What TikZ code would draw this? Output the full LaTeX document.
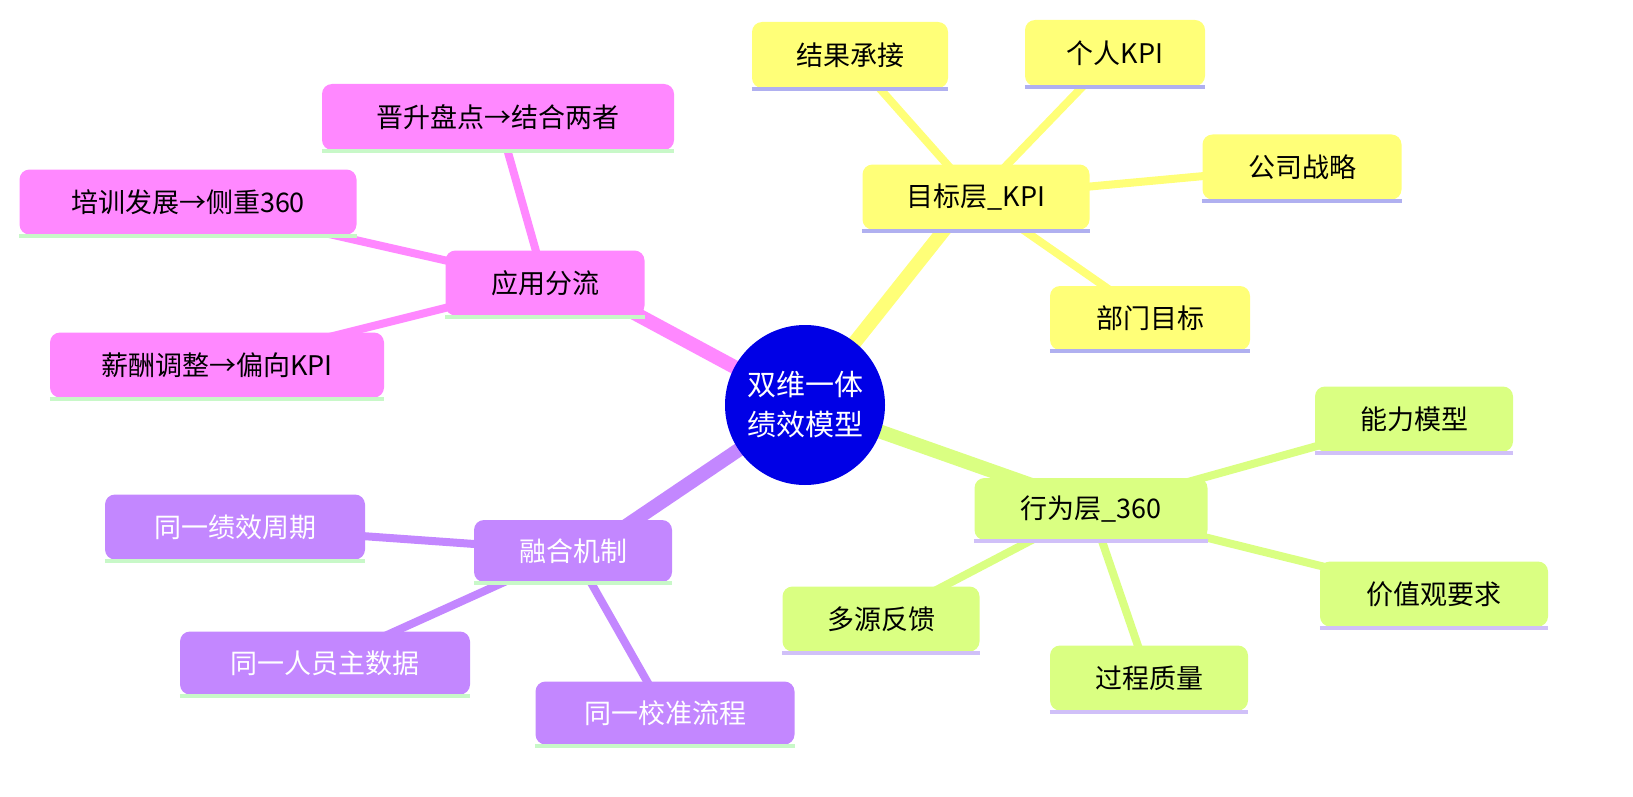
\documentclass[tikz,border=0pt]{standalone}
\usepackage{fontspec}
\newfontfamily\cjk{Noto Sans CJK SC}
\definecolor{ky}{HTML}{FFFF78}
\definecolor{kg}{HTML}{DAFF82}
\definecolor{kp}{HTML}{C387FF}
\definecolor{kk}{HTML}{FF88FF}
\definecolor{ul}{HTML}{B0B0F0}
\definecolor{ulg}{HTML}{C8F8C8}
\definecolor{ulp}{HTML}{D0C0F8}
\begin{document}
\begin{tikzpicture}[x=0.5pt,y=-0.5pt,
  every node/.append style={scale=0.5},
  box/.style={rounded corners=5pt,inner sep=0pt,font=\cjk\fontsize{27}{30}\selectfont},
  yb/.style={box,fill=ky},
  gb/.style={box,fill=kg},
  pb/.style={box,fill=kp,text=white},
  kb/.style={box,fill=kk},
  main/.style={line width=7pt},
  leafl/.style={line width=4pt},
  und/.style={line width=2pt}]
\useasboundingbox (0,0) rectangle (1633,797);
% edges
\coordinate (r) at (805,405);
\draw[ky,main] (r) -- (960,210);
\draw[kg,main] (r) -- (1060,495);
\draw[kp,main] (r) -- (620,530);
\draw[kk,main] (r) -- (610,300);
\draw[ky,leafl] (976,197) -- (850,55);
\draw[ky,leafl] (976,197) -- (1115,53);
\draw[ky,leafl] (976,197) -- (1302,167);
\draw[ky,leafl] (976,197) -- (1150,318);
\draw[kg,leafl] (1091,509) -- (1414,419);
\draw[kg,leafl] (1091,509) -- (1434,594);
\draw[kg,leafl] (1091,509) -- (1149,678);
\draw[kg,leafl] (1091,509) -- (881,619);
\draw[kp,leafl] (573,551) -- (235,527);
\draw[kp,leafl] (573,551) -- (325,663);
\draw[kp,leafl] (573,551) -- (665,713);
\draw[kk,leafl] (545,283) -- (498,117);
\draw[kk,leafl] (545,283) -- (188,202);
\draw[kk,leafl] (545,283) -- (217,365);
% root
\node[circle,fill={rgb,255:red,0;green,0;blue,230},minimum size=160pt,text=white,align=center,font=\cjk\fontsize{29}{40}\selectfont] (root) at (805,405) {双维一体\\绩效模型};
% nodes
\node[yb,minimum width=227pt,minimum height=65pt] (a) at (976,197) {目标层\_KPI};
\node[yb,minimum width=196pt,minimum height=66pt] (a1) at (850,55) {结果承接};
\node[yb,minimum width=180pt,minimum height=66pt] (a2) at (1115,53) {个人KPI};
\node[yb,minimum width=199pt,minimum height=65pt] (a3) at (1302,167) {公司战略};
\node[yb,minimum width=200pt,minimum height=64pt] (a4) at (1150,318) {部门目标};
\node[gb,minimum width=233pt,minimum height=62pt] (b) at (1091,509) {行为层\_360};
\node[gb,minimum width=198pt,minimum height=65pt] (b1) at (1414,419) {能力模型};
\node[gb,minimum width=228pt,minimum height=65pt] (b2) at (1434,594) {价值观要求};
\node[gb,minimum width=198pt,minimum height=65pt] (b3) at (1149,678) {过程质量};
\node[gb,minimum width=197pt,minimum height=65pt] (b4) at (881,619) {多源反馈};
\node[pb,minimum width=198pt,minimum height=62pt] (c) at (573,551) {融合机制};
\node[pb,minimum width=260pt,minimum height=65pt] (c1) at (235,527) {同一绩效周期};
\node[pb,minimum width=290pt,minimum height=63pt] (c2) at (325,663) {同一人员主数据};
\node[pb,minimum width=259pt,minimum height=63pt] (c3) at (665,713) {同一校准流程};
\node[kb,minimum width=199pt,minimum height=65pt] (d) at (545,283) {应用分流};
\node[kb,minimum width=352pt,minimum height=66pt] (d1) at (498,117) {晋升盘点→结合两者};
\node[kb,minimum width=337pt,minimum height=65pt] (d2) at (188,202) {培训发展→侧重360};
\node[kb,minimum width=334pt,minimum height=65pt] (d3) at (217,365) {薪酬调整→偏向KPI};
% underlines
\foreach \n in {a,a1,a2,a3,a4} \draw[ul,und] ([yshift=-0.5pt]\n.south west) -- ([yshift=-0.5pt]\n.south east);
\foreach \n in {b,b1,b2,b3,b4} \draw[ulp,und] ([yshift=-0.5pt]\n.south west) -- ([yshift=-0.5pt]\n.south east);
\foreach \n in {c,c1,c2,c3,d,d1,d2,d3} \draw[ulg,und] ([yshift=-0.5pt]\n.south west) -- ([yshift=-0.5pt]\n.south east);
\end{tikzpicture}
\end{document}
